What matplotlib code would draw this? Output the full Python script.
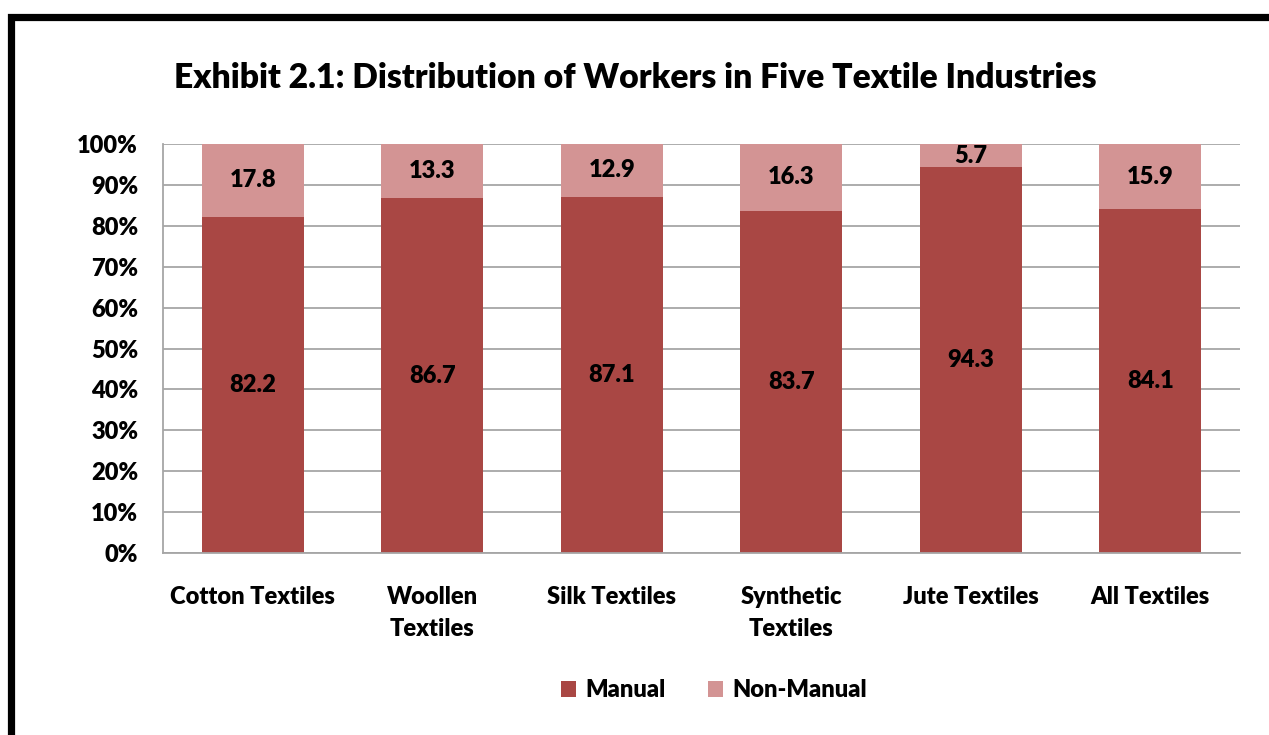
import matplotlib.pyplot as plt
from matplotlib.patches import Rectangle
from matplotlib.ticker import PercentFormatter

plt.rcParams['font.family'] = ['Lato', 'DejaVu Sans']
plt.rcParams['font.weight'] = 'heavy'

categories = ['Cotton Textiles', 'Woollen\nTextiles', 'Silk Textiles',
              'Synthetic\nTextiles', 'Jute Textiles', 'All Textiles']
manual = [82.2, 86.7, 87.1, 83.7, 94.3, 84.1]
non_manual = [17.8, 13.3, 12.9, 16.3, 5.7, 15.9]

manual_color = '#A94744'
non_manual_color = '#D39494'
FS = 17

W, H = 1269, 735
fig = plt.figure(figsize=(W / 100, H / 100), dpi=100)
ax = fig.add_axes([163 / W, 1 - 553 / H, (1240 - 163) / W, (553 - 144) / H])

x = range(len(categories))
b1 = ax.bar(x, manual, width=0.57, color=manual_color, label='Manual', zorder=2)
b2 = ax.bar(x, non_manual, width=0.57, bottom=manual, color=non_manual_color,
            label='Non-Manual', zorder=2)

for i in x:
    ax.text(i, manual[i] / 2, f'{manual[i]:.1f}', ha='center', va='center',
            fontsize=FS, fontweight='heavy')
    ax.text(i, manual[i] + non_manual[i] / 2, f'{non_manual[i]:.1f}',
            ha='center', va='center', fontsize=FS, fontweight='heavy')

ax.set_xlim(-0.5, len(categories) - 0.5)
ax.set_ylim(0, 100)
ax.set_yticks(range(0, 101, 10))
ax.yaxis.set_major_formatter(PercentFormatter(decimals=0))
ax.set_xticks(list(x))
ax.set_xticklabels(categories, fontsize=FS, fontweight='heavy', linespacing=1.6)
ax.tick_params(axis='both', length=0, labelsize=FS)
ax.tick_params(axis='x', pad=23.5)
ax.tick_params(axis='y', pad=18)
ax.grid(axis='y', color='#A6A6A6', linewidth=1.3, zorder=0)
for s in ['top', 'right']:
    ax.spines[s].set_visible(False)
for s in ['left', 'bottom']:
    ax.spines[s].set_color('#A6A6A6')
    ax.spines[s].set_linewidth(1.3)

fig.text(635 / W, 1 - 78 / H, 'Exhibit 2.1: Distribution of Workers in Five Textile Industries',
         ha='center', va='center', fontsize=24.2, fontweight='heavy')

fig.legend(handles=[b1, b2], loc='center', bbox_to_anchor=(714 / W, 1 - 690 / H),
           ncol=2, frameon=False, fontsize=FS, handlelength=0.65, handleheight=0.65,
           columnspacing=1.8, handletextpad=0.4)

# thick black frame, running off the right and bottom edges
fig.patches.append(Rectangle((11.5 / W, -0.1), 1.2, 1 - 16.5 / H + 0.1,
                             transform=fig.transFigure, fill=False,
                             edgecolor='black', linewidth=5.2, clip_on=False))

fig.savefig('out.png', dpi=100)
